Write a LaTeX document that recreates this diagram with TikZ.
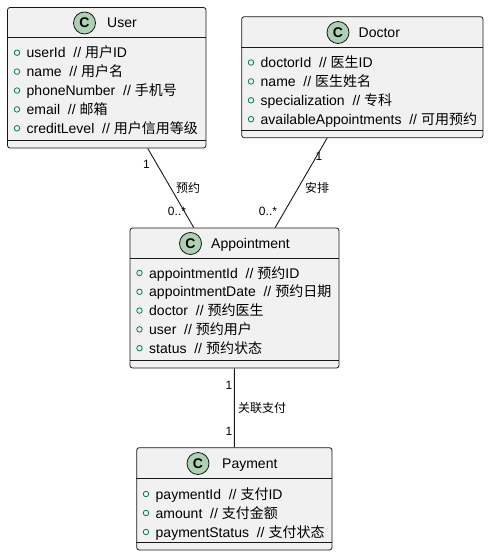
\documentclass[tikz,border=0pt]{standalone}
\usepackage{fontspec}
\setmainfont{Liberation Sans}
\newfontfamily\cjk{Noto Sans CJK SC}
\usetikzlibrary{calc}
\definecolor{boxfill}{HTML}{F1F1F1}
\definecolor{boxline}{HTML}{181818}
\definecolor{cfill}{HTML}{ADD1B2}
\definecolor{pubgreen}{HTML}{038048}
\newcommand\zh[1]{{\cjk #1}}
\begin{document}
\begin{tikzpicture}[x=1pt,y=-1pt,
 classbox/.style={draw=boxline, fill=boxfill, line width=0.8pt, rounded corners=2.5pt, inner sep=0pt},
 sepline/.style={draw=boxline, line width=0.8pt},
 cicon/.style={circle, draw=boxline, fill=cfill, line width=0.8pt, minimum size=22pt, inner sep=0pt, font=\fontsize{14}{14}\selectfont\bfseries},
 ctitle/.style={anchor=base west, inner sep=0pt, font=\fontsize{14}{16}\selectfont},
 attr/.style={anchor=base west, inner sep=0pt, font=\fontsize{14}{16}\selectfont},
 pub/.style={circle, draw=pubgreen, line width=0.8pt, minimum size=5.5pt, inner sep=0pt},
 conn/.style={draw=boxline, line width=0.9pt},
 lbl/.style={inner sep=0pt, font=\fontsize{12}{14}\selectfont}]
\useasboundingbox (0,0) rectangle (491,556);

% ---------- User ----------
\node[classbox, minimum width=198.5pt, minimum height=140.5pt] (user) at (106.75,77.75) {};
\draw[sepline] ($(user.north west)+(0,30.5)$) -- ($(user.north east)+(0,30.5)$);
\draw[sepline] ($(user.south west)+(0,-8)$) -- ($(user.south east)+(0,-8)$);
\node[cicon] (userC) at (84.5,23) {C};
\node[ctitle] (userT) at (107,28) {User};
\foreach \i/\y/\t in {1/52.7/{userId\ \ // \zh{用户}ID},
                      2/71.6/{name\ \ // \zh{用户名}},
                      3/90.5/{phoneNumber\ \ // \zh{手机号}},
                      4/109.4/{email\ \ // \zh{邮箱}},
                      5/128.3/{creditLevel\ \ // \zh{用户信用等级}}}{
  \node[pub] (ub\i) at (17,\y) {};
  \node[attr] (ua\i) at (26.5,\y+5) {\t};
}

% ---------- Doctor ----------
\node[classbox, minimum width=241.3pt, minimum height=121pt] (doctor) at (362.35,77.2) {};
\draw[sepline] ($(doctor.north west)+(0,31)$) -- ($(doctor.north east)+(0,31)$);
\draw[sepline] ($(doctor.south west)+(0,-8)$) -- ($(doctor.south east)+(0,-8)$);
\node[cicon] (docC) at (338,32.5) {C};
\node[ctitle] (docT) at (358.5,37.5) {Doctor};
\foreach \i/\y/\t in {1/62.5/{doctorId\ \ // \zh{医生}ID},
                      2/81.4/{name\ \ // \zh{医生姓名}},
                      3/100.3/{specialization\ \ // \zh{专科}},
                      4/119.2/{availableAppointments\ \ // \zh{可用预约}}}{
  \node[pub] (db\i) at (251,\y) {};
  \node[attr] (da\i) at (260.5,\y+5) {\t};
}

% ---------- Appointment ----------
\node[classbox, minimum width=209pt, minimum height=140pt] (appt) at (234.5,298) {};
\draw[sepline] ($(appt.north west)+(0,31)$) -- ($(appt.north east)+(0,31)$);
\draw[sepline] ($(appt.south west)+(0,-8)$) -- ($(appt.south east)+(0,-8)$);
\node[cicon] (apC) at (190.5,243.5) {C};
\node[ctitle] (apT) at (211,248.5) {Appointment};
\foreach \i/\y/\t in {1/273/{appointmentId\ \ // \zh{预约}ID},
                      2/291.8/{appointmentDate\ \ // \zh{预约日期}},
                      3/310.6/{doctor\ \ // \zh{预约医生}},
                      4/329.4/{user\ \ // \zh{预约用户}},
                      5/348.2/{status\ \ // \zh{预约状态}}}{
  \node[pub] (ab\i) at (139.5,\y) {};
  \node[attr] (aa\i) at (149,\y+5) {\t};
}

% ---------- Payment ----------
\node[classbox, minimum width=195.3pt, minimum height=102.3pt] (pay) at (234.35,498.85) {};
\draw[sepline] ($(pay.north west)+(0,31.3)$) -- ($(pay.north east)+(0,31.3)$);
\draw[sepline] ($(pay.south west)+(0,-8)$) -- ($(pay.south east)+(0,-8)$);
\node[cicon] (payC) at (198,463.5) {C};
\node[ctitle] (payT) at (222,468.5) {Payment};
\foreach \i/\y/\t in {1/494/{paymentId\ \ // \zh{支付}ID},
                      2/513/{amount\ \ // \zh{支付金额}},
                      3/532/{paymentStatus\ \ // \zh{支付状态}}}{
  \node[pub] (pb\i) at (146,\y) {};
  \node[attr] (pa\i) at (155.5,\y+5) {\t};
}

% ---------- Connectors ----------
\draw[conn] (user) -- (appt);
\draw[conn] (doctor) -- (appt);
\draw[conn] (appt) -- (pay);

\node[lbl] (l1) at (146.5,164) {1};
\node[lbl] (l2) at (188,188) {\zh{预约}};
\node[lbl] (l3) at (177,211) {0..*};
\node[lbl] (l4) at (319,156) {1};
\node[lbl] (l5) at (317,188) {\zh{安排}};
\node[lbl] (l6) at (268,211) {0..*};
\node[lbl] (l7) at (229,385) {1};
\node[lbl] (l8) at (262,408) {\zh{关联支付}};
\node[lbl] (l9) at (229,431) {1};
\end{tikzpicture}
\end{document}
